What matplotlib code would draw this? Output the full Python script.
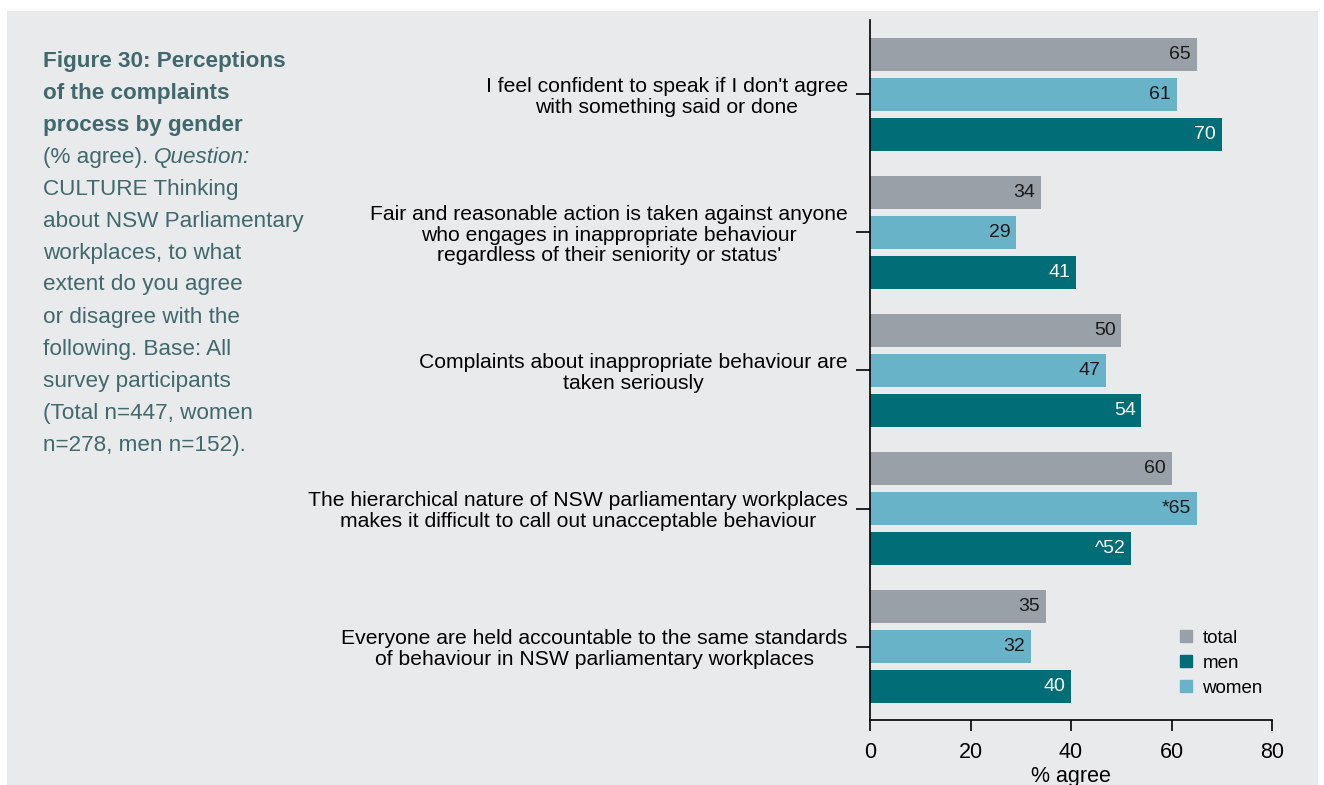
import matplotlib
matplotlib.use("Agg")
import matplotlib.pyplot as plt
from matplotlib.lines import Line2D
from matplotlib.patches import Rectangle
import numpy as np

plt.rcParams['font.family'] = ['Liberation Sans', 'DejaVu Sans']

categories = [
    "I feel confident to speak if I don't agree\nwith something said or done",
    "Fair and reasonable action is taken against anyone\nwho engages in inappropriate behaviour\nregardless of their seniority or status'",
    "Complaints about inappropriate behaviour are\ntaken seriously",
    "The hierarchical nature of NSW parliamentary workplaces\nmakes it difficult to call out unacceptable behaviour",
    "Everyone are held accountable to the same standards\nof behaviour in NSW parliamentary workplaces",
]
total = [65, 34, 50, 60, 35]
women = [61, 29, 47, 65, 32]
men = [70, 41, 54, 52, 40]
women_marks = ["", "", "", "*", ""]
men_marks = ["", "", "", "^", ""]
xticks = [0, 20, 40, 60, 80]

c_total = "#9aa0a8"
c_women = "#69b3c9"
c_men = "#006d77"
bg = "#e9eaec"
title_col = "#41686c"

W, H = 1324, 785
fig = plt.figure(figsize=(W / 100, H / 100), dpi=100)
fig.patch.set_facecolor("white")
fig.patches.append(Rectangle((7 / W, 0), (1318 - 7) / W, (H - 11) / H,
                             transform=fig.transFigure, facecolor=bg,
                             edgecolor="none", zorder=-10))

ax = fig.add_axes([870 / W, (H - 720) / H, 402 / W, 700 / H])
ax.set_facecolor("none")

y = np.arange(len(categories))
step = 40 / 138
bh = 33 / 138
ax.barh(y - step, total, height=bh, color=c_total, label="total")
ax.barh(y, women, height=bh, color=c_women, label="women")
ax.barh(y + step, men, height=bh, color=c_men, label="men")

off = 1.1
vfs = 14
for i in range(len(categories)):
    ax.text(total[i] - off, y[i] - step, f"{total[i]}", ha="right", va="center",
            fontsize=vfs, color="#1a1a1a")
    ax.text(women[i] - off, y[i], f"{women_marks[i]}{women[i]}", ha="right",
            va="center", fontsize=vfs, color="#1a1a1a")
    ax.text(men[i] - off, y[i] + step, f"{men_marks[i]}{men[i]}", ha="right",
            va="center", fontsize=vfs, color="white")

ax.set_xlim(0, 80)
ax.set_ylim(4 + 73.5 / 138, -74.5 / 138)
ax.set_xticks(xticks)
ax.set_xticklabels([str(t) for t in xticks], fontsize=15.5)
ax.set_yticks(y)
ax.set_yticklabels(categories, fontsize=15.2, multialignment="center",
                   linespacing=1.1)
ax.tick_params(axis="y", length=10, width=1.2, pad=6)
ax.tick_params(axis="x", length=8, width=1.2, pad=8)
for s in ["top", "right"]:
    ax.spines[s].set_visible(False)
for s in ["left", "bottom"]:
    ax.spines[s].set_linewidth(1.2)
ax.set_xlabel("% agree", fontsize=15.5, labelpad=2)

handles = [Line2D([], [], marker="s", linestyle="none", color=c, markersize=9)
           for c in (c_total, c_men, c_women)]
ax.legend(handles, ["total", "men", "women"], loc="lower left",
          bbox_to_anchor=(1163 / W, (H - 710) / H), bbox_transform=fig.transFigure,
          frameon=False, fontsize=13.5, handletextpad=0.4, labelspacing=0.42,
          handlelength=1.0, borderpad=0.2)

# Left caption
x0 = 43 / W
lines = [
    ("Figure 30: Perceptions", "bold"),
    ("of the complaints", "bold"),
    ("process by gender", "bold"),
    (None, None),
    ("CULTURE Thinking", "normal"),
    ("about NSW Parliamentary", "normal"),
    ("workplaces, to what", "normal"),
    ("extent do you agree", "normal"),
    ("or disagree with the", "normal"),
    ("following. Base: All", "normal"),
    ("survey participants", "normal"),
    ("(Total n=447, women", "normal"),
    ("n=278, men n=152).", "normal"),
]
fs = 16.2
renderer = fig.canvas.get_renderer()
for k, (txt, wt) in enumerate(lines):
    yc = 1 - (61 + 32 * k) / H
    if txt is None:
        t = fig.text(x0, yc, "(% agree). ", fontsize=fs, color=title_col,
                     va="center", ha="left")
        bb = t.get_window_extent(renderer=renderer)
        fig.text(bb.x1 / W, yc, "Question:", fontsize=fs, color=title_col,
                 va="center", ha="left", style="italic")
    else:
        fig.text(x0, yc, txt, fontsize=fs, color=title_col, va="center",
                 ha="left", fontweight=wt)

fig.savefig("out.png", dpi=100, facecolor=fig.get_facecolor())
